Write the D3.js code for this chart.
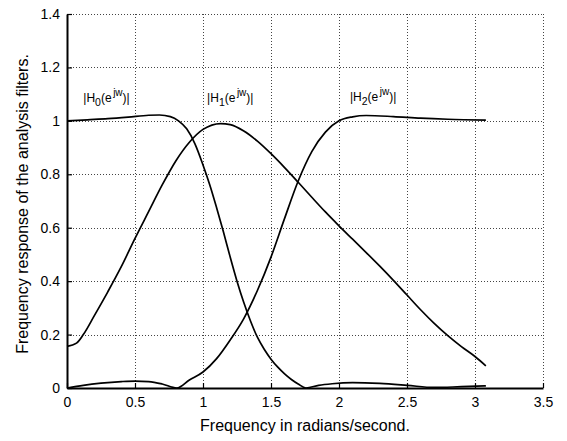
<!DOCTYPE html>
<html>
<head>
<meta charset="utf-8">
<script src="https://cdn.jsdelivr.net/npm/d3@7"></script>
<style>
  body { margin: 0; background: #fff; }
  text { font-family: "Liberation Sans", Arial, Helvetica, sans-serif; fill: #000; }
</style>
</head>
<body>
<div id="container"></div>
<script>
/* DATA */
const h0Freq = [0, 0.15, 0.3, 0.45, 0.6, 0.68, 0.76, 0.82, 0.88, 0.94, 1.0, 1.05, 1.1, 1.15, 1.2, 1.25, 1.3, 1.35, 1.4, 1.45, 1.5, 1.55, 1.6, 1.65, 1.7, 1.757, 1.85, 1.95, 2.1, 2.3, 2.5, 2.7, 2.9, 3.08];
const h0Mag  = [1.0, 1.004, 1.008, 1.014, 1.021, 1.022, 1.016, 1.0, 0.97, 0.915, 0.835, 0.76, 0.675, 0.585, 0.49, 0.40, 0.32, 0.25, 0.19, 0.145, 0.108, 0.078, 0.053, 0.032, 0.015, 0, 0.01, 0.016, 0.02, 0.017, 0.01, 0.002, 0.005, 0.008];

const h1Freq = [0, 0.07, 0.12, 0.2, 0.3, 0.4, 0.5, 0.6, 0.7, 0.8, 0.9, 1.0, 1.13, 1.2, 1.3, 1.4, 1.5, 1.6, 1.7, 1.8, 1.9, 2.0, 2.1, 2.2, 2.3, 2.4, 2.5, 2.6, 2.7, 2.8, 2.9, 3.0, 3.08];
const h1Mag  = [0.156, 0.168, 0.2, 0.27, 0.36, 0.455, 0.56, 0.66, 0.76, 0.85, 0.92, 0.968, 0.99, 0.986, 0.962, 0.924, 0.877, 0.825, 0.77, 0.714, 0.659, 0.607, 0.557, 0.507, 0.456, 0.403, 0.348, 0.293, 0.242, 0.196, 0.155, 0.118, 0.083];

const h2Freq = [0, 0.12, 0.25, 0.4, 0.5, 0.6, 0.7, 0.807, 0.9, 1.0, 1.1, 1.2, 1.3, 1.4, 1.5, 1.6, 1.7, 1.8, 1.9, 2.0, 2.1, 2.2, 2.4, 2.6, 2.8, 3.08];
const h2Mag  = [0, 0.01, 0.018, 0.024, 0.026, 0.024, 0.015, 0, 0.03, 0.06, 0.11, 0.18, 0.26, 0.365, 0.49, 0.635, 0.775, 0.885, 0.958, 1.0, 1.015, 1.02, 1.016, 1.01, 1.006, 1.003];

const xTicks = [0, 0.5, 1, 1.5, 2, 2.5, 3, 3.5];
const yTicks = [0, 0.2, 0.4, 0.6, 0.8, 1, 1.2, 1.4];

// curve labels: subscript index and anchor point in data units
const labelIdx = ["0", "1", "2"];
const labelFreq = [0.12, 1.03, 2.08];
const labelMag = [1.07, 1.07, 1.073];

/* CONSTANTS */
const width = 567;
const height = 441;
const margin = { top: 14, right: 24, bottom: 53, left: 67 };

const svg = d3.select("#container")
  .append("svg")
  .attr("width", width)
  .attr("height", height);

/* SCALES */
const xScale = d3.scaleLinear()
  .domain([0, 3.5])
  .range([margin.left, width - margin.right]);

const yScale = d3.scaleLinear()
  .domain([0, 1.4])
  .range([height - margin.bottom, margin.top]);

// grid
const grid = svg.append("g")
  .attr("stroke", "#444")
  .attr("stroke-width", 1)
  .attr("stroke-dasharray", "1,2");

grid.selectAll(".vgrid")
  .data(xTicks.filter(d => d > 0))
  .join("line")
  .attr("x1", d => Math.round(xScale(d)) + 0.5)
  .attr("x2", d => Math.round(xScale(d)) + 0.5)
  .attr("y1", yScale(1.4))
  .attr("y2", yScale(0));

grid.selectAll(".hgrid")
  .data(yTicks.filter(d => d > 0))
  .join("line")
  .attr("x1", xScale(0))
  .attr("x2", xScale(3.5))
  .attr("y1", d => Math.round(yScale(d)) + 0.5)
  .attr("y2", d => Math.round(yScale(d)) + 0.5);

/* AXES */
const xAxis = d3.axisBottom(xScale)
  .tickValues(xTicks)
  .tickSizeInner(-5)
  .tickSizeOuter(0)
  .tickFormat(d3.format("~g"));

const yAxis = d3.axisLeft(yScale)
  .tickValues(yTicks)
  .tickSizeInner(-5)
  .tickSizeOuter(0)
  .tickPadding(7)
  .tickFormat(d3.format("~g"));

const gx = svg.append("g")
  .attr("transform", `translate(0, ${yScale(0)})`)
  .call(xAxis);

const gy = svg.append("g")
  .attr("transform", `translate(${xScale(0)}, 0)`)
  .call(yAxis);

[gx, gy].forEach(g => {
  g.select(".domain").attr("stroke", "#000").attr("stroke-width", 2);
  g.selectAll(".tick line").attr("stroke", "#000").attr("stroke-width", 1.2);
  g.selectAll(".tick text")
    .style("font-family", '"Liberation Sans", Arial, sans-serif')
    .style("font-size", "14px")
    .attr("fill", "#000");
});
gx.selectAll(".tick text").attr("dy", "0.71em").attr("y", 9);

/* CURVES */
const line = d3.line()
  .x(d => xScale(d[0]))
  .y(d => yScale(d[1]))
  .curve(d3.curveMonotoneX);

const series = [
  d3.zip(h0Freq, h0Mag),
  d3.zip(h1Freq, h1Mag),
  d3.zip(h2Freq, h2Mag)
];

svg.selectAll(".curve")
  .data(series)
  .join("path")
  .attr("class", "curve")
  .attr("d", line)
  .attr("fill", "none")
  .attr("stroke", "#000")
  .attr("stroke-width", 1.7);

/* LABELS */
labelIdx.forEach((k, i) => {
  const t = svg.append("text")
    .attr("x", xScale(labelFreq[i]))
    .attr("y", yScale(labelMag[i]))
    .style("font-size", "12px");
  t.append("tspan").text("|H");
  t.append("tspan").attr("dy", 4).style("font-size", "10.5px").text(k);
  t.append("tspan").attr("dy", -4).text("(e");
  t.append("tspan").attr("dy", -6).attr("dx", 1.5).style("font-size", "10px").text("jw");
  t.append("tspan").attr("dy", 6).text(")|");
});

// X axis label
svg.append("text")
  .attr("text-anchor", "middle")
  .attr("x", (xScale(0) + xScale(3.5)) / 2)
  .attr("y", 431)
  .style("font-size", "16px")
  .text("Frequency in radians/second.");

// Y axis label
svg.append("text")
  .attr("text-anchor", "middle")
  .attr("transform", "rotate(-90)")
  .attr("x", -(yScale(0) + yScale(1.4)) / 2 - 3)
  .attr("y", 28)
  .style("font-size", "16px")
  .text("Frequency response of the analysis filters.");
</script>
</body>
</html>
